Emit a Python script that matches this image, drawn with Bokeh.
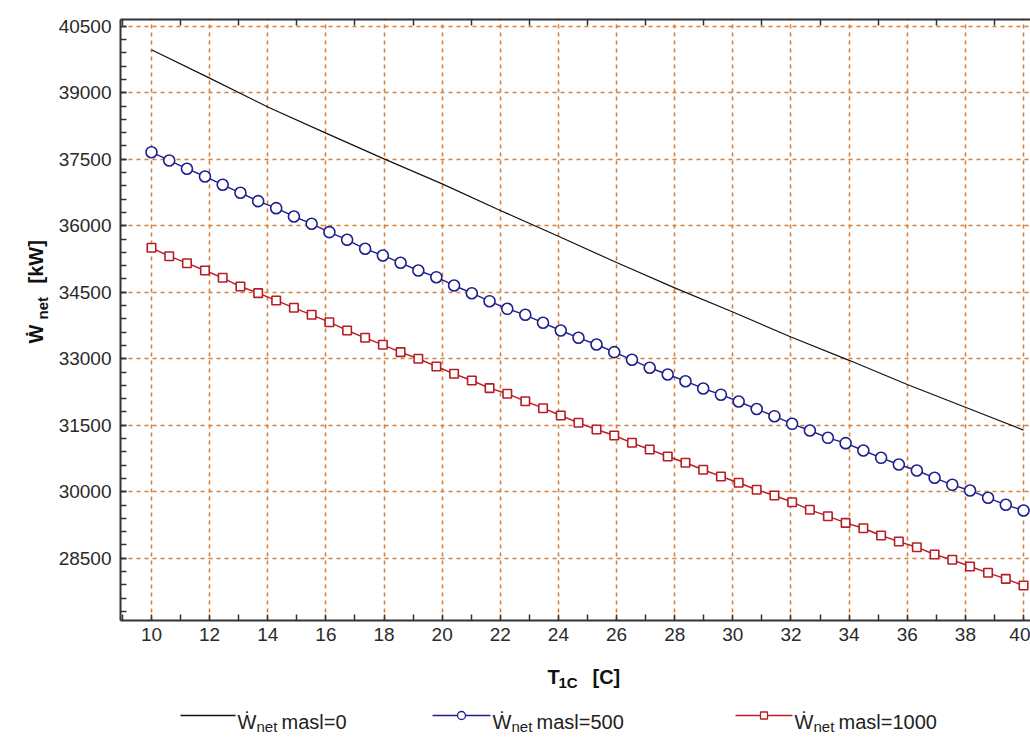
import numpy as np
from bokeh.plotting import figure
from bokeh.models import Range1d, SingleIntervalTicker, FixedTicker, LinearAxis, Grid
from bokeh.layouts import column, row
from bokeh.embed import file_html
from bokeh.resources import INLINE
from bokeh.core.properties import value

# ---------------- data ----------------
t_line = [10, 12, 14, 16, 18, 20, 22, 24, 26, 28, 30, 32, 34, 36, 38, 40]
w_masl0 = [39970, 39330, 38680, 38090, 37510, 36945, 36345, 35765, 35170, 34600,
           34055, 33490, 32965, 32420, 31905, 31390]

t_pts = [10.0, 10.61, 11.22, 11.84, 12.45, 13.06, 13.67, 14.29, 14.9, 15.51,
         16.12, 16.73, 17.35, 17.96, 18.57, 19.18, 19.8, 20.41, 21.02, 21.63,
         22.24, 22.86, 23.47, 24.08, 24.69, 25.31, 25.92, 26.53, 27.14, 27.76,
         28.37, 28.98, 29.59, 30.2, 30.82, 31.43, 32.04, 32.65, 33.27, 33.88,
         34.49, 35.1, 35.71, 36.33, 36.94, 37.55, 38.16, 38.78, 39.39, 40.0]

w_masl500 = [37660, 37473, 37286, 37112, 36925, 36744, 36555, 36397, 36210, 36045,
             35856, 35684, 35481, 35330, 35165, 34991, 34840, 34653, 34479, 34299,
             34127, 33992, 33812, 33638, 33473, 33322, 33149, 32977, 32797, 32645,
             32494, 32330, 32190, 32036, 31866, 31705, 31533, 31382, 31217, 31096,
             30931, 30766, 30615, 30480, 30315, 30157, 30029, 29864, 29706, 29578]

w_masl1000 = [35504, 35314, 35156, 34991, 34827, 34630, 34480, 34315, 34150, 33992,
              33825, 33638, 33473, 33315, 33149, 33000, 32826, 32661, 32510, 32337,
              32210, 32043, 31885, 31720, 31556, 31405, 31269, 31104, 30954, 30796,
              30654, 30496, 30345, 30203, 30045, 29916, 29765, 29593, 29449, 29298,
              29177, 29013, 28877, 28749, 28585, 28465, 28314, 28172, 28036, 27885]

legend_names = ["masl=0", "masl=500", "masl=1000"]
top_minor_ticks = [9, 11, 13, 15, 17, 19, 21, 23, 25, 27, 29, 31, 33, 35, 37, 39]

# ---------------- layout / style ----------------
FONT = "Liberation Sans"
BLUE = "#1e1e8c"
RED = "#b81c24"
BLACK = "#111111"
GRID = "#d4803c"
AX = "#333333"
TXT = "#111111"

W, H = 1030, 737
YT_W = 50                       # strip holding the y-axis title
FRAME_L, FRAME_R, FRAME_T, FRAME_B = 120, 1030, 19, 620
H_MAIN = 655
X0, X1 = 8.934, 40.24
Y0, Y1 = 27096, 40653

p = figure(width=W - YT_W, height=H_MAIN, output_backend="svg", toolbar_location=None,
           x_range=Range1d(X0, X1), y_range=Range1d(Y0, Y1),
           x_axis_type=None, y_axis_type=None,
           min_border_left=FRAME_L - YT_W, min_border_right=W - FRAME_R,
           min_border_top=FRAME_T, min_border_bottom=H_MAIN - FRAME_B)
p.outline_line_color = None
p.background_fill_color = "white"

xt = SingleIntervalTicker(interval=2, num_minor_ticks=2)
yt = SingleIntervalTicker(interval=1500, num_minor_ticks=5)

p.add_layout(Grid(dimension=0, ticker=xt, grid_line_color=GRID, grid_line_width=1.6,
                  grid_line_dash="4 4"))
p.add_layout(Grid(dimension=1, ticker=yt, grid_line_color=GRID, grid_line_width=1.6,
                  grid_line_dash="4 4"))

def style_axis(ax, major_in, minor_in):
    ax.axis_line_color = AX
    ax.axis_line_width = 2
    ax.major_tick_line_color = AX
    ax.minor_tick_line_color = AX
    ax.major_tick_line_width = 1.5
    ax.minor_tick_line_width = 1.5
    ax.major_tick_in = major_in
    ax.major_tick_out = 0
    ax.minor_tick_in = minor_in
    ax.minor_tick_out = 0
    ax.major_label_text_font = FONT
    ax.major_label_text_font_size = "19px"
    ax.major_label_text_color = "#2a2a2a"

xaxis = LinearAxis(ticker=xt)
style_axis(xaxis, 0, 6)
xaxis.major_label_standoff = 7
p.add_layout(xaxis, "below")

xtop = LinearAxis(ticker=FixedTicker(ticks=[], minor_ticks=top_minor_ticks))
style_axis(xtop, 0, 6)
xtop.major_label_standoff = 0
p.add_layout(xtop, "above")

yaxis = LinearAxis(ticker=yt)
style_axis(yaxis, 6, 6)
yaxis.major_label_standoff = 9
p.add_layout(yaxis, "left")

# ---------------- series ----------------
p.line(t_line, w_masl0, line_color=BLACK, line_width=1.2)
p.line(t_pts, w_masl500, line_color=BLUE, line_width=1.4)
p.scatter(t_pts, w_masl500, marker="circle", size=11, line_color=BLUE,
          fill_color="white", line_width=1.6)
p.line(t_pts, w_masl1000, line_color=RED, line_width=1.4)
p.scatter(t_pts, w_masl1000, marker="square", size=8.5, line_color=RED,
          fill_color="white", line_width=1.6)

def txt(fig, x, y, s, size, bold=True, angle=0, color=TXT):
    fig.text([x], [y], text=[s], angle=angle, text_font=value(FONT),
             text_font_size=size, text_font_style="bold" if bold else "normal",
             text_color=color, text_align="left", text_baseline="alphabetic")

# ---------------- y-axis title strip (page-pixel coordinates) ----------------
yfig = figure(width=YT_W, height=H, output_backend="svg", toolbar_location=None,
              x_range=Range1d(0, YT_W), y_range=Range1d(FRAME_B, FRAME_T),
              x_axis_type=None, y_axis_type=None,
              min_border_left=0, min_border_right=0,
              min_border_top=FRAME_T, min_border_bottom=H - FRAME_B)
yfig.outline_line_color = None
ang = np.pi / 2
txt(yfig, 35, 343, "\u1E86", "20px", angle=ang)
txt(yfig, 42, 319, "net", "15px", angle=ang)
txt(yfig, 35, 283, "[kW]", "20px", angle=ang)

# ---------------- x title + legend strip (page-pixel coordinates) ----------------
H_LEG = H - H_MAIN
leg = figure(width=W - YT_W, height=H_LEG, output_backend="svg", toolbar_location=None,
             x_range=Range1d(FRAME_L, FRAME_R), y_range=Range1d(H, H_MAIN),
             x_axis_type=None, y_axis_type=None,
             min_border_left=FRAME_L - YT_W, min_border_right=W - FRAME_R,
             min_border_top=0, min_border_bottom=0)
leg.outline_line_color = None

txt(leg, 547, 676, "T", "20px")
txt(leg, 558, 682, "1C", "15px")
txt(leg, 592, 676, "[C]", "20px")

ly, base, sub = 715, 721, 726
entries = [
    (180, 235, None, BLACK),
    (432, 490, "circle", BLUE),
    (735, 792, "square", RED),
]
for (x0, x1, mk, col), name in zip(entries, legend_names):
    leg.line([x0, x1], [ly, ly], line_color=col, line_width=1.3)
    if mk == "circle":
        leg.scatter([(x0 + x1) / 2], [ly], marker="circle", size=8, line_color=col,
                    fill_color="white", line_width=1.3)
    elif mk == "square":
        leg.scatter([(x0 + x1) / 2], [ly], marker="square", size=7, line_color=col,
                    fill_color="white", line_width=1.3)
    txt(leg, x1 + 2, base, "\u1E86", "20px", bold=False, color="#222222")
    txt(leg, x1 + 21, sub, "net", "15px", bold=False, color="#222222")
    txt(leg, x1 + 46, base, name, "20px", bold=False, color="#222222")

layout = row(yfig, column(p, leg))
open("out.html", "w").write(file_html(layout, INLINE))
